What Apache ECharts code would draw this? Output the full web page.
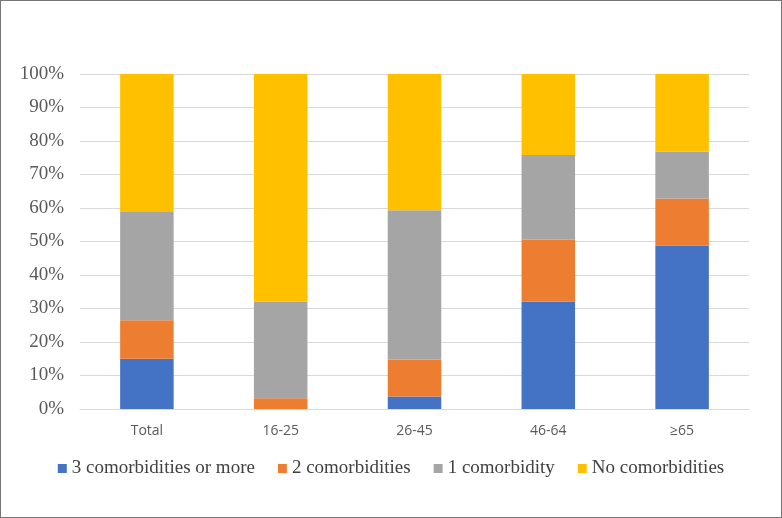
<!DOCTYPE html>
<html><head><meta charset="utf-8">
<script src="https://cdn.jsdelivr.net/npm/echarts@6/dist/echarts.min.js"></script>
<style>html,body{margin:0;padding:0;background:#fff}
#c{width:780px;height:516px;border:1px solid #767676;}</style>
</head><body><div id="c"></div>
<script>
const categories = ['Total','16-25','26-45','46-64','≥65'];
const threePlus = [15.0, 0, 3.7, 32.0, 48.8];
const two = [11.5, 3.2, 11.1, 18.6, 14.0];
const one = [32.5, 28.9, 44.5, 25.2, 14.1];
const none = [41.0, 67.9, 40.7, 24.2, 23.1];
const seriesNames = ['3 comorbidities or more','2 comorbidities','1 comorbidity','No comorbidities'];
const colors = ['#4472C4','#ED7D31','#A5A5A5','#FFC000'];
const font = 'Liberation Serif, Times New Roman, serif';
const sans = 'Open Sans, Liberation Sans, sans-serif';
const chart = echarts.init(document.getElementById('c'));
const data = [threePlus, two, one, none];
chart.setOption({
  animation:false,
  color: colors,
  grid:{left:79,right:32,top:73,bottom:108},
  legend:{bottom:34,left:'center',itemWidth:9,itemHeight:9,itemGap:23,icon:'rect',
    textStyle:{fontFamily:font,fontSize:19,color:'#404040'},data:seriesNames},
  xAxis:{type:'category',data:categories,
    axisLine:{lineStyle:{color:'#d9d9d9'}},axisTick:{show:false},
    axisLabel:{fontFamily:sans,fontSize:14,color:'#595959',margin:15}},
  yAxis:{type:'value',min:0,max:100,interval:10,
    axisLabel:{formatter:'{value}%',fontFamily:font,fontSize:19,color:'#595959',margin:16},
    splitLine:{lineStyle:{color:'#d9d9d9'}},axisLine:{show:false},axisTick:{show:false}},
  series: seriesNames.map((n,i)=>({name:n,type:'bar',stack:'s',barWidth:'40%',data:data[i]}))
});
</script></body></html>
